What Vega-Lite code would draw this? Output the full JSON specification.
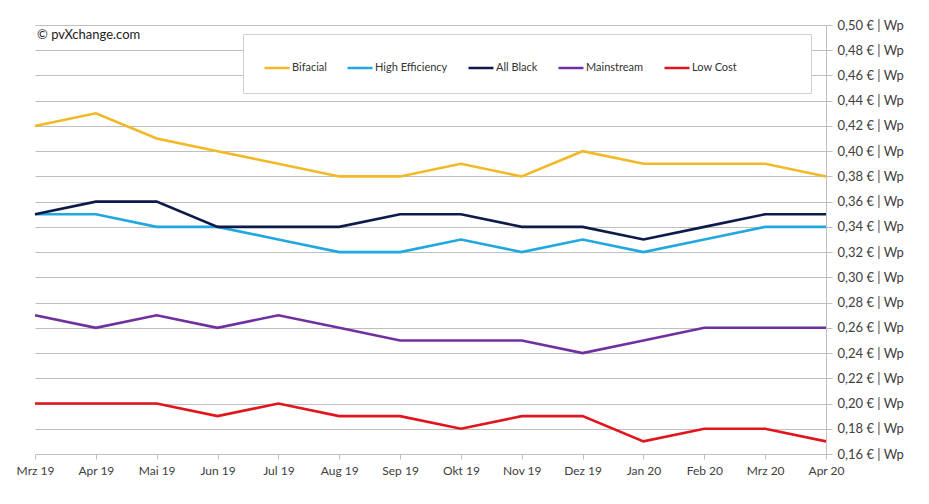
{
  "$schema": "https://vega.github.io/schema/vega-lite/v6.json",
  "autosize": {"type": "none"},
  "padding": {"left": 35, "top": 25, "right": 103, "bottom": 50},
  "width": 791,
  "height": 429,
  "background": "white",
  "title": {
    "text": "© pvXchange.com",
    "anchor": "start",
    "frame": "group",
    "orient": "top",
    "offset": -23,
    "dx": 2,
    "font": "Lato",
    "fontSize": 13,
    "fontWeight": "normal",
    "color": "#222222"
  },
  "data": {
    "values": [
      {"month": "Mrz 19", "series": "Bifacial", "price": 0.42},
      {"month": "Apr 19", "series": "Bifacial", "price": 0.43},
      {"month": "Mai 19", "series": "Bifacial", "price": 0.41},
      {"month": "Jun 19", "series": "Bifacial", "price": 0.40},
      {"month": "Jul 19", "series": "Bifacial", "price": 0.39},
      {"month": "Aug 19", "series": "Bifacial", "price": 0.38},
      {"month": "Sep 19", "series": "Bifacial", "price": 0.38},
      {"month": "Okt 19", "series": "Bifacial", "price": 0.39},
      {"month": "Nov 19", "series": "Bifacial", "price": 0.38},
      {"month": "Dez 19", "series": "Bifacial", "price": 0.40},
      {"month": "Jan 20", "series": "Bifacial", "price": 0.39},
      {"month": "Feb 20", "series": "Bifacial", "price": 0.39},
      {"month": "Mrz 20", "series": "Bifacial", "price": 0.39},
      {"month": "Apr 20", "series": "Bifacial", "price": 0.38},
      {"month": "Mrz 19", "series": "High Efficiency", "price": 0.35},
      {"month": "Apr 19", "series": "High Efficiency", "price": 0.35},
      {"month": "Mai 19", "series": "High Efficiency", "price": 0.34},
      {"month": "Jun 19", "series": "High Efficiency", "price": 0.34},
      {"month": "Jul 19", "series": "High Efficiency", "price": 0.33},
      {"month": "Aug 19", "series": "High Efficiency", "price": 0.32},
      {"month": "Sep 19", "series": "High Efficiency", "price": 0.32},
      {"month": "Okt 19", "series": "High Efficiency", "price": 0.33},
      {"month": "Nov 19", "series": "High Efficiency", "price": 0.32},
      {"month": "Dez 19", "series": "High Efficiency", "price": 0.33},
      {"month": "Jan 20", "series": "High Efficiency", "price": 0.32},
      {"month": "Feb 20", "series": "High Efficiency", "price": 0.33},
      {"month": "Mrz 20", "series": "High Efficiency", "price": 0.34},
      {"month": "Apr 20", "series": "High Efficiency", "price": 0.34},
      {"month": "Mrz 19", "series": "All Black", "price": 0.35},
      {"month": "Apr 19", "series": "All Black", "price": 0.36},
      {"month": "Mai 19", "series": "All Black", "price": 0.36},
      {"month": "Jun 19", "series": "All Black", "price": 0.34},
      {"month": "Jul 19", "series": "All Black", "price": 0.34},
      {"month": "Aug 19", "series": "All Black", "price": 0.34},
      {"month": "Sep 19", "series": "All Black", "price": 0.35},
      {"month": "Okt 19", "series": "All Black", "price": 0.35},
      {"month": "Nov 19", "series": "All Black", "price": 0.34},
      {"month": "Dez 19", "series": "All Black", "price": 0.34},
      {"month": "Jan 20", "series": "All Black", "price": 0.33},
      {"month": "Feb 20", "series": "All Black", "price": 0.34},
      {"month": "Mrz 20", "series": "All Black", "price": 0.35},
      {"month": "Apr 20", "series": "All Black", "price": 0.35},
      {"month": "Mrz 19", "series": "Mainstream", "price": 0.27},
      {"month": "Apr 19", "series": "Mainstream", "price": 0.26},
      {"month": "Mai 19", "series": "Mainstream", "price": 0.27},
      {"month": "Jun 19", "series": "Mainstream", "price": 0.26},
      {"month": "Jul 19", "series": "Mainstream", "price": 0.27},
      {"month": "Aug 19", "series": "Mainstream", "price": 0.26},
      {"month": "Sep 19", "series": "Mainstream", "price": 0.25},
      {"month": "Okt 19", "series": "Mainstream", "price": 0.25},
      {"month": "Nov 19", "series": "Mainstream", "price": 0.25},
      {"month": "Dez 19", "series": "Mainstream", "price": 0.24},
      {"month": "Jan 20", "series": "Mainstream", "price": 0.25},
      {"month": "Feb 20", "series": "Mainstream", "price": 0.26},
      {"month": "Mrz 20", "series": "Mainstream", "price": 0.26},
      {"month": "Apr 20", "series": "Mainstream", "price": 0.26},
      {"month": "Mrz 19", "series": "Low Cost", "price": 0.20},
      {"month": "Apr 19", "series": "Low Cost", "price": 0.20},
      {"month": "Mai 19", "series": "Low Cost", "price": 0.20},
      {"month": "Jun 19", "series": "Low Cost", "price": 0.19},
      {"month": "Jul 19", "series": "Low Cost", "price": 0.20},
      {"month": "Aug 19", "series": "Low Cost", "price": 0.19},
      {"month": "Sep 19", "series": "Low Cost", "price": 0.19},
      {"month": "Okt 19", "series": "Low Cost", "price": 0.18},
      {"month": "Nov 19", "series": "Low Cost", "price": 0.19},
      {"month": "Dez 19", "series": "Low Cost", "price": 0.19},
      {"month": "Jan 20", "series": "Low Cost", "price": 0.17},
      {"month": "Feb 20", "series": "Low Cost", "price": 0.18},
      {"month": "Mrz 20", "series": "Low Cost", "price": 0.18},
      {"month": "Apr 20", "series": "Low Cost", "price": 0.17}
    ]
  },
  "mark": {"type": "line", "strokeWidth": 2.6, "strokeJoin": "miter"},
  "encoding": {
    "x": {
      "field": "month", "type": "ordinal", "sort": null,
      "scale": {"type": "point", "padding": 0},
      "axis": {"title": null, "labelAngle": 0, "grid": false, "ticks": true, "tickSize": 5, "labelPadding": 6, "domain": true}
    },
    "y": {
      "field": "price", "type": "quantitative",
      "scale": {"domain": [0.16, 0.5], "nice": false, "zero": false},
      "axis": {
        "orient": "right", "title": null,
        "values": [0.16, 0.18, 0.2, 0.22, 0.24, 0.26, 0.28, 0.3, 0.32, 0.34, 0.36, 0.38, 0.4, 0.42, 0.44, 0.46, 0.48, 0.5],
        "labelOverlap": false,
        "labelExpr": "replace(format(datum.value, '.2f'), '.', ',') + ' € | Wp'",
        "tickSize": 6, "labelPadding": 5
      }
    },
    "color": {
      "field": "series", "type": "nominal",
      "scale": {
        "domain": ["Bifacial", "High Efficiency", "All Black", "Mainstream", "Low Cost"],
        "range": ["#F2B927", "#22A8E0", "#0E1A48", "#7030A0", "#E0161C"]
      },
      "legend": {
        "title": null, "orient": "none", "direction": "horizontal",
        "legendX": 208, "legendY": 9,
        "symbolType": "stroke", "symbolSize": 625, "symbolStrokeWidth": 2.5,
        "labelOffset": 1, "columnPadding": 15, "padding": 20,
        "strokeColor": "#D0D0D0", "fillColor": "white",
        "labelExpr": "datum.label == 'Low Cost' ? datum.label + '\u00a0\u00a0\u00a0\u00a0\u00a0\u00a0\u00a0\u00a0\u00a0\u00a0\u00a0\u00a0\u00a0\u00a0\u00a0\u00a0\u00a0\u00a0\u00a0\u200b' : datum.label"
      }
    }
  },
  "config": {
    "font": "Lato",
    "view": {"stroke": null},
    "axis": {
      "labelFont": "Lato", "labelFontSize": 12, "labelColor": "#404040",
      "domainColor": "#BFBFBF", "tickColor": "#BFBFBF", "gridColor": "#BFBFBF",
      "gridOpacity": 1, "domainWidth": 1, "gridWidth": 1
    },
    "axisY": {"labelFontSize": 13},
    "legend": {"labelFont": "Lato", "labelFontSize": 11, "labelColor": "#333333"}
  }
}
